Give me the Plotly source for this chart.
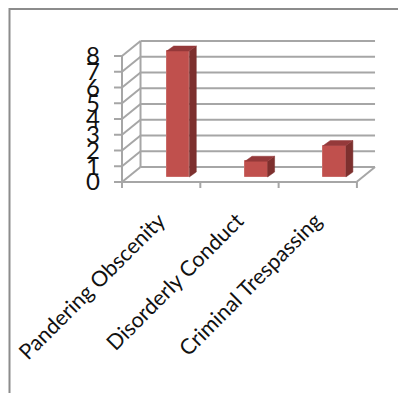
import plotly.graph_objects as go

categories = ["Pandering Obscenity", "Disorderly Conduct", "Criminal Trespassing"]
values = [8, 1, 2]
y_ticks = list(range(9))

PAGE = 8  # the page's own margin around the figure
W, H = 406 - PAGE, 393 - PAGE
X0, XU = 178.0 - PAGE, 78.3
Y0, YU = 182.0 - PAGE, 15.75
def dx(px): return px / XU
def dy(px): return px / YU

floor_lift = dy(5)
half = dx(11.3)
depth_x, depth_y = dx(7), dy(5)
wall_x, wall_y = dx(18.5), dy(15)
left, right = -0.715, 2.28
boundaries = [left, left + 1, left + 2, left + 3]
GRID = "#a6a6a6"

segments = []
for v in y_ticks:
    segments += [(left, v, left + wall_x, v + wall_y),
                 (left + wall_x, v + wall_y, right + wall_x, v + wall_y),
                 (left - dx(8), v, left, v)]
segments += [(left, 0, left, 8), (left + wall_x, wall_y, left + wall_x, 8 + wall_y),
             (right, 0, right + wall_x, wall_y), (left, 0, right, 0)]
for b in boundaries:
    segments.append((b, 0, b, -dy(6)))

shapes = [dict(type="line", xref="x", yref="y", x0=a, y0=b, x1=c, y1=d, layer="below",
               line=dict(color=GRID, width=2)) for a, b, c, d in segments]
shapes.append(dict(type="path", xref="paper", yref="paper",
                   path=f"M {1.5/W} 0 L {1.5/W} {1-1/H} L 1 {1-1/H}",
                   line=dict(color="#8c8c8c", width=2)))

fig = go.Figure()
fig.add_trace(go.Bar(x=list(range(len(values))), y=values, base=floor_lift, width=2 * half,
                     marker=dict(color="#c0504d", line=dict(color="#c96a67", width=1)),
                     showlegend=False))

for i, v in enumerate(values):
    top = v + floor_lift
    fig.add_trace(go.Scatter(
        x=[i + half, i + half + depth_x, i + half + depth_x, i + half, i + half],
        y=[floor_lift, floor_lift + depth_y, top + depth_y, top, floor_lift],
        mode="lines", fill="toself", fillcolor="#7d302e", line=dict(color="#7d302e", width=0.5),
        hoverinfo="skip", showlegend=False))
    fig.add_trace(go.Scatter(
        x=[i - half, i + half, i + half + depth_x, i - half + depth_x, i - half],
        y=[top, top, top + depth_y, top + depth_y, top],
        mode="lines", fill="toself", fillcolor="#94393a", line=dict(color="#94393a", width=0.5),
        hoverinfo="skip", showlegend=False))

fig.update_layout(
    width=W, height=H, margin=dict(l=0, r=0, t=0, b=0, autoexpand=False),
    paper_bgcolor="white", plot_bgcolor="white", bargap=0,
    font=dict(family="Lato", color="#111111"),
    shapes=shapes,
    xaxis=dict(range=[-X0 / XU, (W - X0) / XU], tickvals=list(range(len(categories))),
               ticktext=categories, tickangle=-45, ticklen=0, showgrid=False, zeroline=False,
               showline=False, tickfont=dict(size=21.5), anchor="free", position=1 - Y0 / H,
               ticklabelstandoff=21, ticklabelshift=-19, automargin=False),
    yaxis=dict(range=[-(H - Y0) / YU, Y0 / YU], tickvals=y_ticks, ticklen=0, showgrid=False,
               zeroline=False, showline=False, tickfont=dict(size=24), anchor="free",
               position=(122 - PAGE) / W, ticklabelstandoff=22, automargin=False),
)
fig.write_html("out.html", config={"displayModeBar": False})
